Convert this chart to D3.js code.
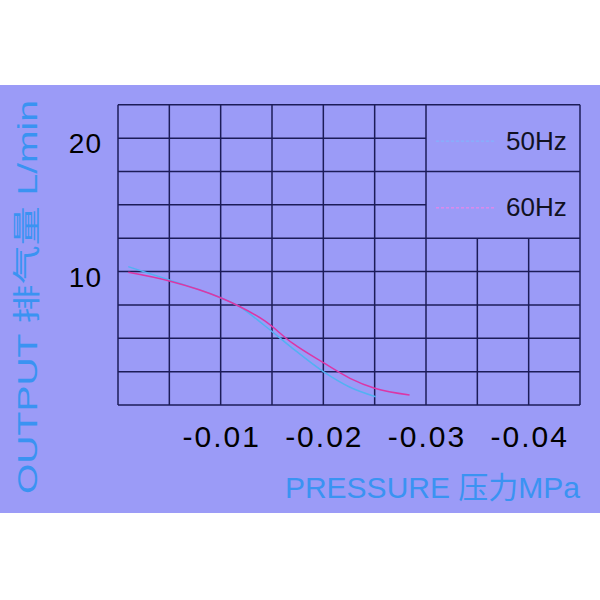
<!DOCTYPE html>
<html>
<head>
<meta charset="utf-8">
<script src="https://cdn.jsdelivr.net/npm/d3@7"></script>
<style>
  body { margin: 0; background: #ffffff; }
  svg { display: block; }
</style>
</head>
<body>
<div id="chart"></div>
<script>
// pressure (MPa) and output (L/min)
var pressure50 = [-0.001, -0.005, -0.01, -0.0117, -0.0143, -0.017, -0.02, -0.0226, -0.0251];
var output50   = [10.37, 9.37, 8.04, 7.44, 5.94, 4.25, 2.5, 1.33, 0.62];
var pressure60 = [-0.001, -0.005, -0.01, -0.0117, -0.0143, -0.017, -0.02, -0.0226, -0.025, -0.0284];
var output60   = [9.95, 9.3, 8.04, 7.44, 6.3, 4.63, 3.17, 2.0, 1.25, 0.75];

var seriesNames = ["50Hz", "60Hz"];
var xTicks = [-0.01, -0.02, -0.03, -0.04];
var yTicks = [10, 20];
var xGrid = [0, -0.005, -0.01, -0.015, -0.02, -0.025, -0.03, -0.035, -0.04, -0.045];
var yGrid = [0, 2.5, 5, 7.5, 10, 12.5, 15, 17.5, 20, 22.5];

var colors = ["#52b2f2", "#dc36a6"];
var legendColors = ["#7fb8ff", "#ff7fe6"];
var gridColor = "#1c1c58";
var font = "Arial, 'Liberation Sans', 'Noto Sans CJK SC', sans-serif";

var svg = d3.select("#chart").append("svg").attr("width", 600).attr("height", 600);

svg.append("rect")
    .attr("x", 0).attr("y", 85)
    .attr("width", 600).attr("height", 428)
    .style("fill", "#9b9bf7");

var x = d3.scaleLinear().domain([0, -0.045]).range([118, 580]);
var y = d3.scaleLinear().domain([0, 22.5]).range([405, 104.8]);

// legend sits in the upper right cells, inner grid removed there
var legendX0 = -0.03, legendY0 = 12.5, legendSplit = 17.5;

var grid = svg.append("g").style("stroke", gridColor).style("stroke-width", 1.5);

grid.selectAll("line.h")
    .data(yGrid)
    .enter()
    .append("line")
        .attr("x1", x(0))
        .attr("x2", function(d) {
            var inside = d > legendY0 && d < 22.5 && d != legendSplit;
            return inside ? x(legendX0) : x(-0.045);
        })
        .attr("y1", function(d) { return y(d); })
        .attr("y2", function(d) { return y(d); });

grid.selectAll("line.v")
    .data(xGrid)
    .enter()
    .append("line")
        .attr("x1", function(d) { return x(d); })
        .attr("x2", function(d) { return x(d); })
        .attr("y1", y(0))
        .attr("y2", function(d) {
            var inside = d < legendX0 && d > -0.045;
            return inside ? y(legendY0) : y(22.5);
        });

// curves
var pts = [
    pressure50.map(function(p, i) { return [p, output50[i]]; }),
    pressure60.map(function(p, i) { return [p, output60[i]]; })
];

var line = d3.line()
    .x(function(d) { return x(d[0]); })
    .y(function(d) { return y(d[1]); })
    .curve(d3.curveMonotoneX);

svg.selectAll("path.curve")
    .data(pts)
    .enter()
    .append("path")
        .attr("d", line)
        .style("fill", "none")
        .style("stroke", function(d, i) { return colors[i]; })
        .style("stroke-width", 1.5);

// legend
var legendMid = [20, 15];
svg.selectAll("line.leg")
    .data(seriesNames)
    .enter()
    .append("line")
        .attr("x1", x(legendX0) + 10)
        .attr("x2", x(legendX0) + 70)
        .attr("y1", function(d, i) { return y(legendMid[i]) + 3; })
        .attr("y2", function(d, i) { return y(legendMid[i]) + 3; })
        .style("stroke", function(d, i) { return legendColors[i]; })
        .style("stroke-width", 1)
        .style("stroke-dasharray", "3,2");

svg.selectAll("text.leg")
    .data(seriesNames)
    .enter()
    .append("text")
        .attr("x", x(legendX0) + 80)
        .attr("y", function(d, i) { return y(legendMid[i]) + 11.5; })
        .style("font-family", font)
        .style("font-size", "26px")
        .style("fill", "#111122")
        .text(function(d) { return d; });

// tick labels
svg.selectAll("text.xt")
    .data(xTicks)
    .enter()
    .append("text")
        .attr("x", function(d) { return x(d) + 1; })
        .attr("y", 446.7)
        .attr("text-anchor", "middle")
        .style("font-family", font)
        .style("font-size", "30px")
        .style("letter-spacing", "2px")
        .style("fill", "#000")
        .text(function(d) { return d.toFixed(2); });

svg.selectAll("text.yt")
    .data(yTicks)
    .enter()
    .append("text")
        .attr("x", 102)
        .attr("y", function(d) { return y(d) + 15; })
        .attr("text-anchor", "end")
        .style("font-family", font)
        .style("font-size", "28px")
        .style("letter-spacing", "1px")
        .style("fill", "#000")
        .text(function(d) { return d; });

// axis titles
svg.append("text")
    .attr("x", 580)
    .attr("y", 498)
    .attr("text-anchor", "end")
    .style("font-family", font)
    .style("font-size", "30px")
    .style("fill", "#3a93f2")
    .text("PRESSURE 压力MPa");

svg.append("text")
    .attr("transform", "translate(37,297) rotate(-90)")
    .attr("text-anchor", "middle")
    .attr("textLength", 394)
    .attr("lengthAdjust", "spacingAndGlyphs")
    .style("font-family", font)
    .style("font-size", "28px")
    .style("fill", "#3a93f2")
    .text("OUTPUT 排气量 L/min");
</script>
</body>
</html>
